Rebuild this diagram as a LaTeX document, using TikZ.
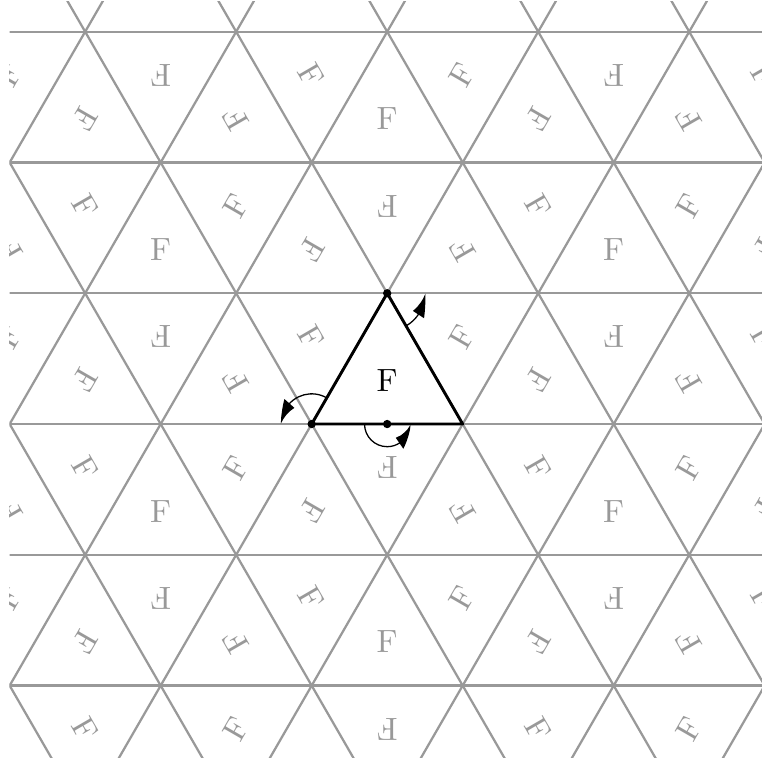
\documentclass[tikz,border=0pt]{standalone}
\usetikzlibrary{arrows.meta,bending}
\definecolor{gridgray}{gray}{0.6}
\begin{document}
\begin{tikzpicture}[x=1.65cm,y=1.65cm,
  gridline/.style={gridgray, line width=0.7pt},
  glyph/.style={text=gridgray, inner sep=0pt},
  mainedge/.style={black, line width=0.9pt, line join=round},
  rotarc/.style={black, line width=0.4pt, -{Latex[length=7pt,width=4.2pt,bend]}},
  centre/.style={fill=black}]
\useasboundingbox (-2.064,-2.238) rectangle (2.982,2.808);
\def\h{0.8660254}
\begin{scope}
  \clip (-2,-2.2113) rectangle (3.1,2.797);
  \foreach \j in {-3,...,4} \draw[gridline] (-4,\j*\h) -- (5,\j*\h);
  \foreach \a in {-8,...,8} {
    \draw[gridline] (\a-2,-4*\h) -- (\a+2,4*\h);
    \draw[gridline] (\a+2,-4*\h) -- (\a-2,4*\h);
  }
  \foreach \a in {-5,...,5}{
    \foreach \b in {-3,...,3}{
      \pgfmathtruncatemacro\k{mod(mod(\a-\b,3)+3,3)}
      \pgfmathsetmacro\tu{-120*\k}
      \pgfmathsetmacro\td{60+120*\k}
      \pgfmathsetmacro\xu{\a+\b/2+0.5}
      \pgfmathsetmacro\yu{(\b+1/3)*\h}
      \pgfmathsetmacro\xd{\a+\b/2+1}
      \pgfmathsetmacro\yd{(\b+2/3)*\h}
      \pgfmathtruncatemacro\inu{and(and(\xu>-2.3,\xu<3.2),and(\yu>-2.45,\yu<3.0))}
      \pgfmathtruncatemacro\ind{and(and(\xd>-2.3,\xd<3.2),and(\yd>-2.45,\yd<3.0))}
      \pgfmathtruncatemacro\ism{(\a==0)&&(\b==0)}
      \ifnum\inu=1
        \ifnum\ism=0
          \node[glyph, rotate=\tu] (up\a x\b) at (\xu,\yu) {F};
        \fi
      \fi
      \ifnum\ind=1
        \node[glyph, rotate=\td] (dn\a x\b) at (\xd,\yd) {F};
      \fi
    }
  }
\end{scope}
\coordinate (A) at (0.5,\h);
\coordinate (B) at (0,0);
\coordinate (C) at (1,0);
\coordinate (M) at (0.5,0);
\draw[mainedge] (A) -- (B) -- (C) -- cycle;
\node[inner sep=0pt] (F0) at (0.5,{\h/3}) {F};
\draw[rotarc] ([shift={(-60:0.25)}]A) arc[start angle=-60,end angle=0,radius=0.25];
\draw[rotarc] ([shift={(60:0.2)}]B) arc[start angle=60,end angle=180,radius=0.2];
\draw[rotarc] ([shift={(180:0.15)}]M) arc[start angle=180,end angle=360,radius=0.15];
\fill[centre] (A) circle (1.3pt);
\fill[centre] (B) circle (1.3pt);
\fill[centre] (M) circle (1.3pt);
\end{tikzpicture}
\end{document}
